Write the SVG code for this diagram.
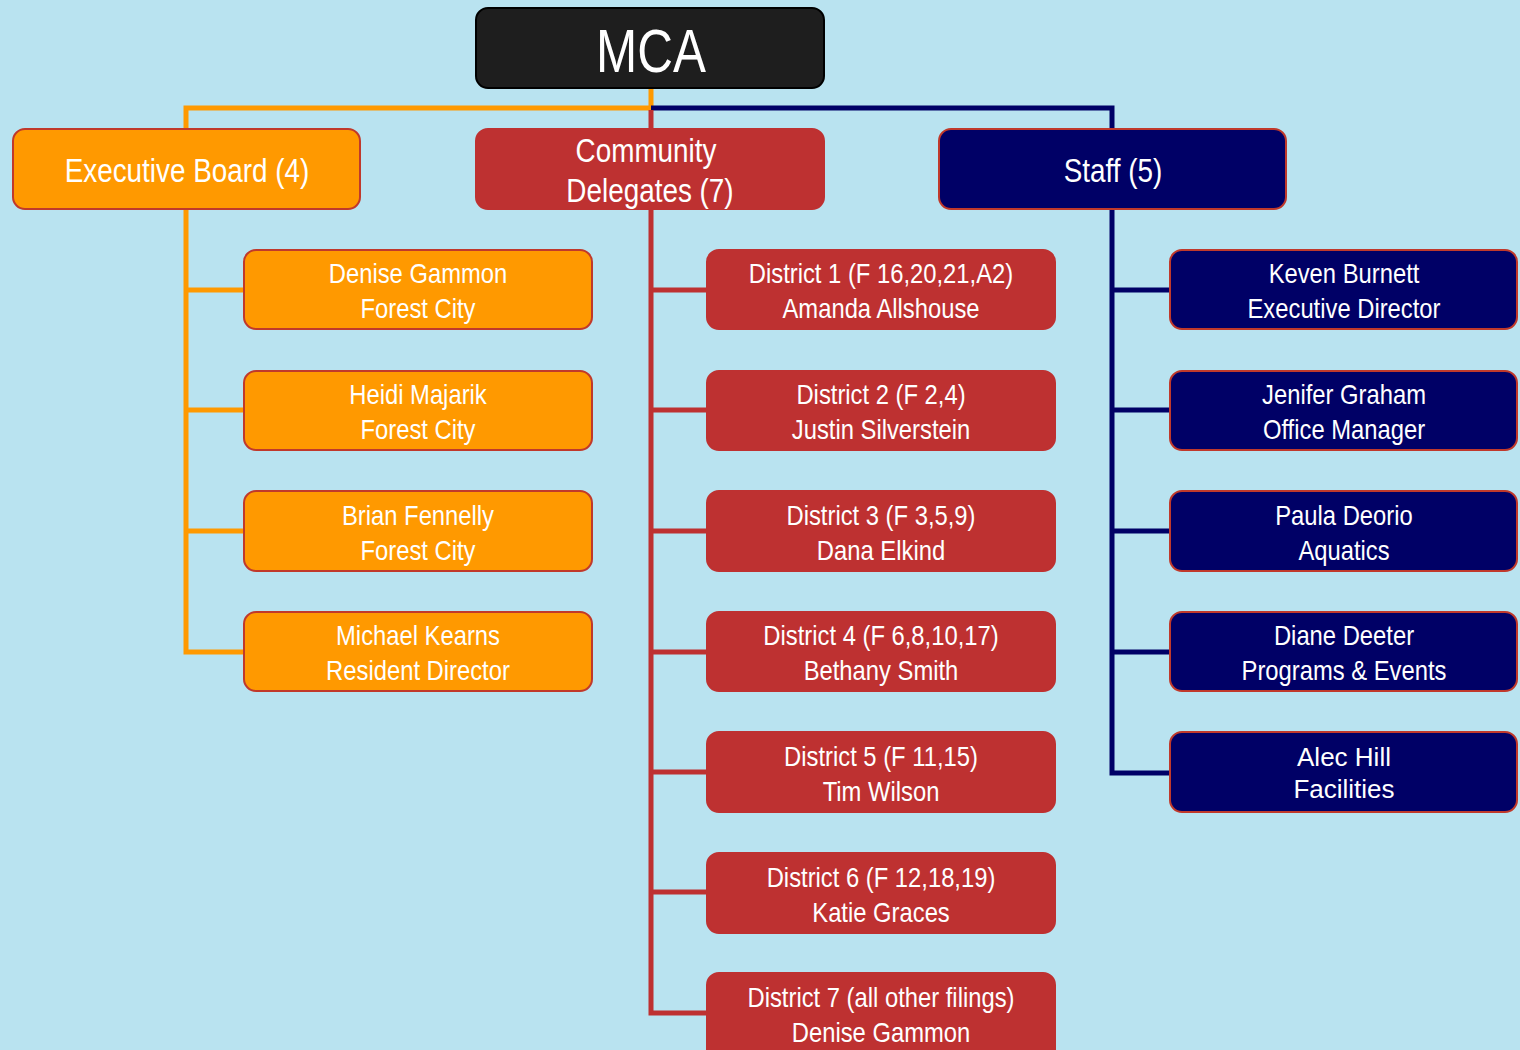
<svg xmlns="http://www.w3.org/2000/svg" width="1520" height="1050" viewBox="0 0 1520 1050">
<style>
.t{font-family:"Liberation Sans",Arial,sans-serif;fill:#ffffff;text-anchor:middle}
.s{font-size:28px}
.l{font-size:34px}
.a{font-family:"Liberation Sans",Arial,sans-serif;font-size:26px;fill:#ffffff;text-anchor:middle}
.or{fill:#ff9900;stroke:#c0392b;stroke-width:2}
.rd{fill:#be3131;stroke:#be3131;stroke-width:2}
.nv{fill:#000066;stroke:#c0392b;stroke-width:2}
.c{fill:none;stroke-width:5}
</style>
<rect width="1520" height="1050" fill="#b9e3f0"/>
<g id="connectors">
<path class="c" stroke="#ff9900" d="M651,88 V108 H186 V128"/>
<path class="c" stroke="#000066" d="M651,108 H1112 V128"/>
<path class="c" stroke="#be3131" d="M651,110 V128"/>
<path class="c" stroke="#ff9900" d="M186,209 V652 H244 M186,290 H244 M186,410 H244 M186,531 H244"/>
<path class="c" stroke="#be3131" d="M651,209 V1013 H707 M651,290 H707 M651,410 H707 M651,531 H707 M651,652 H707 M651,772 H707 M651,892 H707"/>
<path class="c" stroke="#000066" d="M1112,209 V773 H1170 M1112,290 H1170 M1112,410 H1170 M1112,531 H1170 M1112,652 H1170"/>
</g>
<g id="mca"><rect x="476" y="8" width="348" height="80" rx="12" fill="#1e1e1e" stroke="#000" stroke-width="2"/><text class="t" font-size="61" transform="translate(651,72) scale(0.81,1)">MCA</text></g>
<g id="exec"><rect class="or" x="13" y="129" width="347" height="80" rx="12"/><text class="t l" transform="translate(187,182) scale(0.82,1)">Executive Board (4)</text></g>
<g id="community"><rect class="rd" x="476" y="129" width="348" height="80" rx="12"/><text class="t l" transform="translate(646,162) scale(0.82,1)">Community</text><text class="t l" transform="translate(650,202) scale(0.82,1)">Delegates (7)</text></g>
<g id="staff"><rect class="nv" x="939" y="129" width="347" height="80" rx="12"/><text class="t l" transform="translate(1113,182) scale(0.82,1)">Staff (5)</text></g>

<g id="e1"><rect class="or" x="244" y="250" width="348" height="79" rx="12"/><text class="t s" transform="translate(418,283) scale(0.85,1)">Denise Gammon</text><text class="t s" transform="translate(418,318) scale(0.85,1)">Forest City</text></g>
<g id="e2"><rect class="or" x="244" y="371" width="348" height="79" rx="12"/><text class="t s" transform="translate(418,404) scale(0.85,1)">Heidi Majarik</text><text class="t s" transform="translate(418,439) scale(0.85,1)">Forest City</text></g>
<g id="e3"><rect class="or" x="244" y="491" width="348" height="80" rx="12"/><text class="t s" transform="translate(418,525) scale(0.85,1)">Brian Fennelly</text><text class="t s" transform="translate(418,560) scale(0.85,1)">Forest City</text></g>
<g id="e4"><rect class="or" x="244" y="612" width="348" height="79" rx="12"/><text class="t s" transform="translate(418,645) scale(0.85,1)">Michael Kearns</text><text class="t s" transform="translate(418,680) scale(0.85,1)">Resident Director</text></g>

<g id="d1"><rect class="rd" x="707" y="250" width="348" height="79" rx="12"/><text class="t s" transform="translate(881,283) scale(0.85,1)">District 1 (F 16,20,21,A2)</text><text class="t s" transform="translate(881,318) scale(0.85,1)">Amanda Allshouse</text></g>
<g id="d2"><rect class="rd" x="707" y="371" width="348" height="79" rx="12"/><text class="t s" transform="translate(881,404) scale(0.85,1)">District 2 (F 2,4)</text><text class="t s" transform="translate(881,439) scale(0.85,1)">Justin Silverstein</text></g>
<g id="d3"><rect class="rd" x="707" y="491" width="348" height="80" rx="12"/><text class="t s" transform="translate(881,525) scale(0.85,1)">District 3 (F 3,5,9)</text><text class="t s" transform="translate(881,560) scale(0.85,1)">Dana Elkind</text></g>
<g id="d4"><rect class="rd" x="707" y="612" width="348" height="79" rx="12"/><text class="t s" transform="translate(881,645) scale(0.85,1)">District 4 (F 6,8,10,17)</text><text class="t s" transform="translate(881,680) scale(0.85,1)">Bethany Smith</text></g>
<g id="d5"><rect class="rd" x="707" y="732" width="348" height="80" rx="12"/><text class="t s" transform="translate(881,766) scale(0.85,1)">District 5 (F 11,15)</text><text class="t s" transform="translate(881,801) scale(0.85,1)">Tim Wilson</text></g>
<g id="d6"><rect class="rd" x="707" y="853" width="348" height="80" rx="12"/><text class="t s" transform="translate(881,887) scale(0.85,1)">District 6 (F 12,18,19)</text><text class="t s" transform="translate(881,922) scale(0.85,1)">Katie Graces</text></g>
<g id="d7"><rect class="rd" x="707" y="973" width="348" height="90" rx="12"/><text class="t s" transform="translate(881,1007) scale(0.85,1)">District 7 (all other filings)</text><text class="t s" transform="translate(881,1042) scale(0.85,1)">Denise Gammon</text></g>

<g id="s1"><rect class="nv" x="1170" y="250" width="347" height="79" rx="12"/><text class="t s" transform="translate(1344,283) scale(0.85,1)">Keven Burnett</text><text class="t s" transform="translate(1344,318) scale(0.85,1)">Executive Director</text></g>
<g id="s2"><rect class="nv" x="1170" y="371" width="347" height="79" rx="12"/><text class="t s" transform="translate(1344,404) scale(0.85,1)">Jenifer Graham</text><text class="t s" transform="translate(1344,439) scale(0.85,1)">Office Manager</text></g>
<g id="s3"><rect class="nv" x="1170" y="491" width="347" height="80" rx="12"/><text class="t s" transform="translate(1344,525) scale(0.85,1)">Paula Deorio</text><text class="t s" transform="translate(1344,560) scale(0.85,1)">Aquatics</text></g>
<g id="s4"><rect class="nv" x="1170" y="612" width="347" height="79" rx="12"/><text class="t s" transform="translate(1344,645) scale(0.85,1)">Diane Deeter</text><text class="t s" transform="translate(1344,680) scale(0.85,1)">Programs &amp; Events</text></g>
<g id="s5"><rect class="nv" x="1170" y="732" width="347" height="80" rx="12"/><text class="a" x="1344" y="766">Alec Hill</text><text class="a" x="1344" y="798">Facilities</text></g>
</svg>
